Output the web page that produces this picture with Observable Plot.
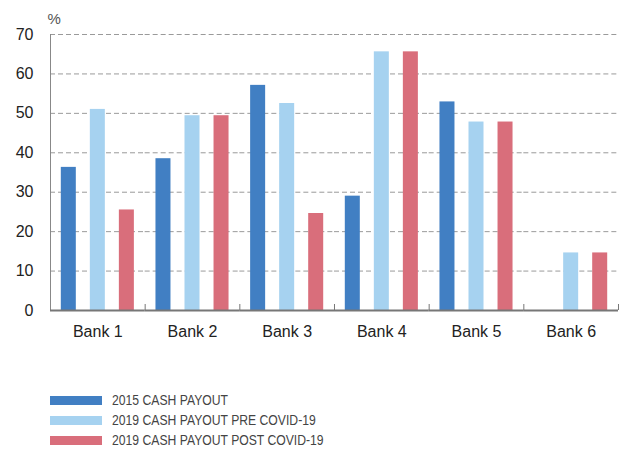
<!DOCTYPE html>
<html><head><meta charset="utf-8">
<script src="https://cdn.jsdelivr.net/npm/d3@7"></script>
<script src="https://cdn.jsdelivr.net/npm/@observablehq/plot@0.6"></script>
<style>
body{margin:0;background:#fff;font-family:"Liberation Sans",Arial,sans-serif}
#legend{padding:40px 0 0 50px;font-family:"Liberation Sans",Arial,sans-serif;font-size:14px;color:#444}
.row{display:flex;align-items:center;height:20px}
.sw{width:52px;height:9px;margin-right:10px;flex:none}
.row span{display:inline-block;transform:scaleX(0.87);transform-origin:left center;white-space:nowrap}
</style></head><body>
<div id="chart"></div><div id="legend"></div>
<script>
const banks = ["Bank 1", "Bank 2", "Bank 3", "Bank 4", "Bank 5", "Bank 6"];
const payout2015 = [36.3, 38.5, 57.1, 29.0, 52.9, null];
const payoutPre = [51.0, 49.4, 52.5, 65.6, 47.8, 14.6];
const payoutPost = [25.5, 49.4, 24.6, 65.6, 47.8, 14.6];
const seriesNames = ["2015 CASH PAYOUT", "2019 CASH PAYOUT PRE COVID-19", "2019 CASH PAYOUT POST COVID-19"];
const seriesColors = ["#417fc3", "#a6d2f0", "#d96e7b"];
const yTicks = [0, 10, 20, 30, 40, 50, 60, 70];

const seriesValues = [payout2015, payoutPre, payoutPost];
const data = banks.flatMap((b, i) => seriesNames.map((s, j) => ({bank: b, series: s, value: seriesValues[j][i]})))
  .filter(d => d.value != null);

const chart = Plot.plot({
  width: 619, height: 350,
  marginTop: 34, marginBottom: 40, marginLeft: 50, marginRight: 1,
  style: {fontFamily: "Liberation Sans, Arial, sans-serif", fontSize: "16px", color: "#222", background: "#fff"},
  fx: {domain: banks, padding: 0, round: false, label: null},
  x: {domain: seriesNames, paddingInner: 0.483, paddingOuter: 0.372, round: false, axis: null},
  y: {domain: [0, 70], label: null},
  color: {domain: seriesNames, range: seriesColors},
  marks: [
    Plot.gridY(yTicks, {stroke: "#9a9a9a", strokeOpacity: 1, strokeDasharray: "5,3"}),
    Plot.barY(data, {fx: "bank", x: "series", y: "value", fill: "series"}),
    Plot.frame({anchor: "left", facetAnchor: "left", stroke: "#888"}),
    Plot.ruleY([0], {stroke: "#777", strokeWidth: 2}),
    Plot.axisY(yTicks, {tickSize: 0, tickPadding: 17, fontSize: 16, label: null}),
    Plot.axisFx({anchor: "bottom", tickSize: 0, tickPadding: 15, fontSize: 16, label: null}),
    Plot.axisFx({anchor: "bottom", tickSize: 6, dy: -6, tickFormat: () => "", dx: 47.33, label: null, stroke: "#777"}),
    Plot.text(["%"], {frameAnchor: "top-left", textAnchor: "start", dx: -3, dy: -21, fontSize: 15, fill: "#555", facetAnchor: "left"})
  ]
});
document.getElementById("chart").appendChild(chart);

const legend = document.getElementById("legend");
seriesNames.forEach((s, i) => {
  const row = document.createElement("div");
  row.className = "row";
  const sw = document.createElement("div");
  sw.className = "sw";
  sw.style.background = seriesColors[i];
  const label = document.createElement("span");
  label.textContent = s;
  row.appendChild(sw);
  row.appendChild(label);
  legend.appendChild(row);
});
</script>
</body></html>
